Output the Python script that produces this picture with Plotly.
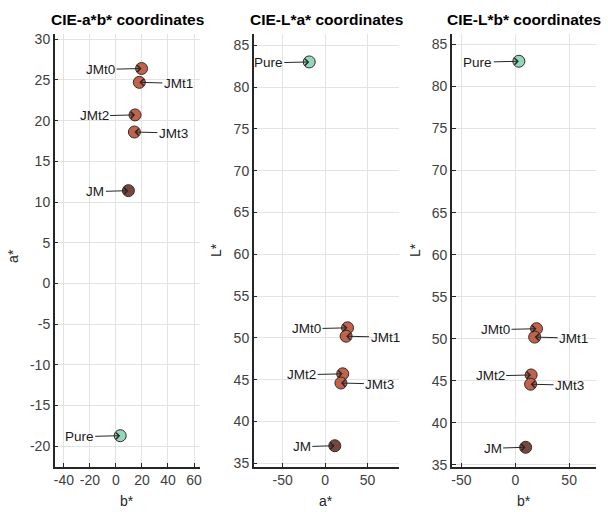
import plotly.graph_objects as go

# ---- data ----
labels = ["JMt0", "JMt1", "JMt2", "JMt3", "JM", "Pure"]
L_star = [51.2, 50.2, 45.7, 44.6, 37.1, 83.0]
a_star = [26.4, 24.7, 20.7, 18.6, 11.4, -18.7]
b_star = [19.7, 18.0, 14.7, 14.2, 9.6, 3.3]
label_side = ["left", "right", "left", "right", "left", "left"]

panel_titles = ["CIE-a*b* coordinates", "CIE-L*a* coordinates", "CIE-L*b* coordinates"]
x_titles = ["b*", "a*", "b*"]
y_titles = ["a*", "L*", "L*"]
x_tickvals = [[-40, -20, 0, 20, 40, 60], [-50, 0, 50], [-50, 0, 50]]
y_tickvals = [[-20, -15, -10, -5, 0, 5, 10, 15, 20, 25, 30],
              [35, 40, 45, 50, 55, 60, 65, 70, 75, 80, 85],
              [35, 40, 45, 50, 55, 60, 65, 70, 75, 80, 85]]

# ---- style ----
marker_colors = ["#c0624c", "#c0624c", "#c0624c", "#c0624c", "#7a4640", "#92d6bb"]
W, H = 608, 512
FONT = "Liberation Sans, Arial, Helvetica, sans-serif"
x_dom = [(54, 200), (254, 400), (453, 598)]
y_dom = (32, 472)
x_ranges = [[-47, 64.6], [-84, 87], [-59, 75]]
y_ranges = [[-22.5, 30.7], [34.6, 86.4], [34.8, 86.3]]
ytitle_x = [12, 216, 416]
ytitle_y = [258, 252, 252]


def txt(v):
    return str(v).replace("\u2212", "-")


panels = [(b_star, a_star), (a_star, L_star), (b_star, L_star)]

fig = go.Figure()
annotations = []
layout_axes = {}
for i, (xs, ys) in enumerate(panels):
    k = "" if i == 0 else str(i + 1)
    fig.add_trace(go.Scatter(
        x=xs, y=ys, mode="markers", xaxis="x" + k, yaxis="y" + k,
        marker=dict(size=12, color=marker_colors, line=dict(color="#3a2a28", width=1)),
        showlegend=False, hoverinfo="skip", cliponaxis=False))
    common = dict(showgrid=True, gridcolor="#e3e3e3", gridwidth=1, zeroline=False,
                  showline=True, linecolor="#262626", linewidth=1.5,
                  ticks="inside", ticklen=4, tickcolor="#262626", tickwidth=1,
                  tickfont=dict(family=FONT, size=14, color="#404040"))
    layout_axes["xaxis" + k] = dict(common, domain=[x_dom[i][0] / W, x_dom[i][1] / W],
                                    range=x_ranges[i], tickvals=x_tickvals[i],
                                    ticktext=[txt(v) for v in x_tickvals[i]],
                                    anchor="y" + k)
    layout_axes["yaxis" + k] = dict(common, domain=[1 - y_dom[1] / H, 1 - y_dom[0] / H],
                                    range=y_ranges[i], tickvals=y_tickvals[i],
                                    ticktext=[txt(v) for v in y_tickvals[i]],
                                    anchor="x" + k)
    # point labels with arrows
    for j, lab in enumerate(labels):
        if label_side[j] == "left":
            ax = -33 if lab == "JM" else -41
        else:
            ax = 39
        annotations.append(dict(
            x=xs[j], y=ys[j], xref="x" + k, yref="y" + k, text=lab,
            showarrow=True, ax=ax, ay=1, arrowhead=4, arrowsize=1.3, arrowwidth=1,
            arrowcolor="#262626", standoff=0,
            font=dict(family=FONT, size=13.5, color="#1a1a1a")))
    cx = (x_dom[i][0] + x_dom[i][1]) / 2
    annotations.append(dict(x=cx / W, y=1 - 18 / H, xref="paper", yref="paper",
                            text="<b>" + panel_titles[i] + "</b>", showarrow=False,
                            xanchor="center", yanchor="middle",
                            font=dict(family=FONT, size=15.5, color="#000000")))
    annotations.append(dict(x=cx / W, y=1 - 507 / H, xref="paper", yref="paper",
                            text=x_titles[i], showarrow=False,
                            xanchor="center", yanchor="middle",
                            font=dict(family=FONT, size=14, color="#262626")))
    annotations.append(dict(x=ytitle_x[i] / W, y=1 - ytitle_y[i] / H, xref="paper", yref="paper",
                            text=y_titles[i], showarrow=False, textangle=-90,
                            xanchor="center", yanchor="middle",
                            font=dict(family=FONT, size=14, color="#262626")))

fig.update_layout(width=W, height=H, margin=dict(l=0, r=0, t=0, b=0),
                  paper_bgcolor="white", plot_bgcolor="white",
                  annotations=annotations, **layout_axes)
fig.write_html("out.html", config={"displayModeBar": False},
               post_script="document.body.style.margin='0';document.body.style.overflow='hidden';")
